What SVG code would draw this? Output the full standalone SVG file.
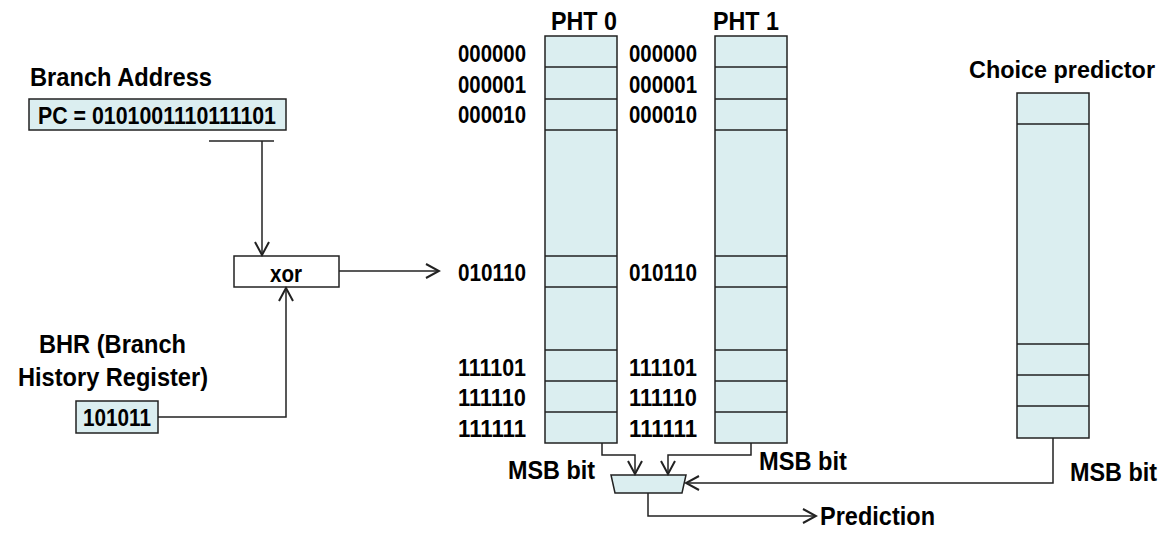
<svg xmlns="http://www.w3.org/2000/svg" width="1173" height="535" viewBox="0 0 1173 535">
<style>
text{font-family:"Liberation Sans",Arial,sans-serif;font-weight:bold;fill:#000;}
.lab{font-size:26px;}
.row{font-size:24px;}
.box{fill:#DBEEF0;stroke:#222;stroke-width:1.5;}
.wbox{fill:#fff;stroke:#222;stroke-width:1.5;}
.ln{fill:none;stroke:#222;stroke-width:1.5;}
.conn{fill:none;stroke:#222;stroke-width:1.5;}
</style>
<defs>
<marker id="arr" markerWidth="16" markerHeight="16" viewBox="-14 -8 16 16" refX="0" refY="0" orient="auto" markerUnits="userSpaceOnUse">
<path d="M-13,-7 L0,0 L-13,7" fill="none" stroke="#222" stroke-width="2"/>
</marker>
</defs>

<g id="branch-address">
<text class="lab" x="30" y="86" textLength="182" lengthAdjust="spacingAndGlyphs">Branch Address</text>
<rect class="box" x="29" y="99" width="257" height="31"/>
<text class="row" x="38" y="124" textLength="238" lengthAdjust="spacingAndGlyphs">PC = 0101001110111101</text>
<line class="ln" x1="209" y1="141" x2="274" y2="141"/>
</g>

<g id="xor">
<rect class="wbox" x="234" y="256" width="105" height="31"/>
<text class="row" x="270" y="282" textLength="32" lengthAdjust="spacingAndGlyphs">xor</text>
</g>

<g id="bhr">
<text class="lab" x="39" y="353" textLength="147" lengthAdjust="spacingAndGlyphs">BHR (Branch</text>
<text class="lab" x="18" y="386" textLength="190" lengthAdjust="spacingAndGlyphs">History Register)</text>
<rect class="box" x="76" y="401" width="82" height="32"/>
<text class="row" x="83" y="426" textLength="68" lengthAdjust="spacingAndGlyphs">101011</text>
</g>

<g id="pht0">
<text class="lab" x="551" y="30" textLength="66" lengthAdjust="spacingAndGlyphs">PHT 0</text>
<rect class="box" x="545" y="36" width="72" height="407"/>
<path class="ln" d="M545,67H617M545,99H617M545,130H617M545,256H617M545,287H617M545,350H617M545,381H617M545,412H617"/>
<text class="row" x="458" y="62" textLength="68" lengthAdjust="spacingAndGlyphs">000000</text>
<text class="row" x="458" y="93" textLength="68" lengthAdjust="spacingAndGlyphs">000001</text>
<text class="row" x="458" y="123" textLength="68" lengthAdjust="spacingAndGlyphs">000010</text>
<text class="row" x="458" y="281" textLength="68" lengthAdjust="spacingAndGlyphs">010110</text>
<text class="row" x="458" y="376" textLength="68" lengthAdjust="spacingAndGlyphs">111101</text>
<text class="row" x="458" y="406" textLength="68" lengthAdjust="spacingAndGlyphs">111110</text>
<text class="row" x="458" y="437" textLength="68" lengthAdjust="spacingAndGlyphs">111111</text>
</g>

<g id="pht1">
<text class="lab" x="713" y="30" textLength="66" lengthAdjust="spacingAndGlyphs">PHT 1</text>
<rect class="box" x="715" y="36" width="72" height="407"/>
<path class="ln" d="M715,67H787M715,99H787M715,130H787M715,256H787M715,287H787M715,350H787M715,381H787M715,412H787"/>
<text class="row" x="629" y="62" textLength="68" lengthAdjust="spacingAndGlyphs">000000</text>
<text class="row" x="629" y="93" textLength="68" lengthAdjust="spacingAndGlyphs">000001</text>
<text class="row" x="629" y="123" textLength="68" lengthAdjust="spacingAndGlyphs">000010</text>
<text class="row" x="629" y="281" textLength="68" lengthAdjust="spacingAndGlyphs">010110</text>
<text class="row" x="629" y="376" textLength="68" lengthAdjust="spacingAndGlyphs">111101</text>
<text class="row" x="629" y="406" textLength="68" lengthAdjust="spacingAndGlyphs">111110</text>
<text class="row" x="629" y="437" textLength="68" lengthAdjust="spacingAndGlyphs">111111</text>
</g>

<g id="choice-predictor">
<text x="969" y="78" style="font-size:24.5px" textLength="186" lengthAdjust="spacingAndGlyphs">Choice predictor</text>
<rect class="box" x="1017" y="93" width="72" height="345"/>
<path class="ln" d="M1017,124H1089M1017,344H1089M1017,375H1089M1017,406H1089"/>
</g>

<g id="mux">
<polygon class="box" points="611,475 686,475 682,493 615,493"/>
</g>

<g id="labels">
<text class="lab" x="508" y="479" textLength="87" lengthAdjust="spacingAndGlyphs">MSB bit</text>
<text class="lab" x="759" y="470" textLength="88" lengthAdjust="spacingAndGlyphs">MSB bit</text>
<text class="lab" x="1070" y="481" textLength="87" lengthAdjust="spacingAndGlyphs">MSB bit</text>
<text class="lab" x="820" y="525" textLength="115" lengthAdjust="spacingAndGlyphs">Prediction</text>
</g>

<g id="connectors">
<path class="conn" d="M262,141V255" marker-end="url(#arr)"/>
<path class="conn" d="M158,417H286V288" marker-end="url(#arr)"/>
<path class="conn" d="M339,271H439" marker-end="url(#arr)"/>
<path class="conn" d="M602,443V455H635V474" marker-end="url(#arr)"/>
<path class="conn" d="M751,443V455H668V474" marker-end="url(#arr)"/>
<path class="conn" d="M1053,438V483H686" marker-end="url(#arr)"/>
<path class="conn" d="M648,493V516H816" marker-end="url(#arr)"/>
</g>
</svg>
